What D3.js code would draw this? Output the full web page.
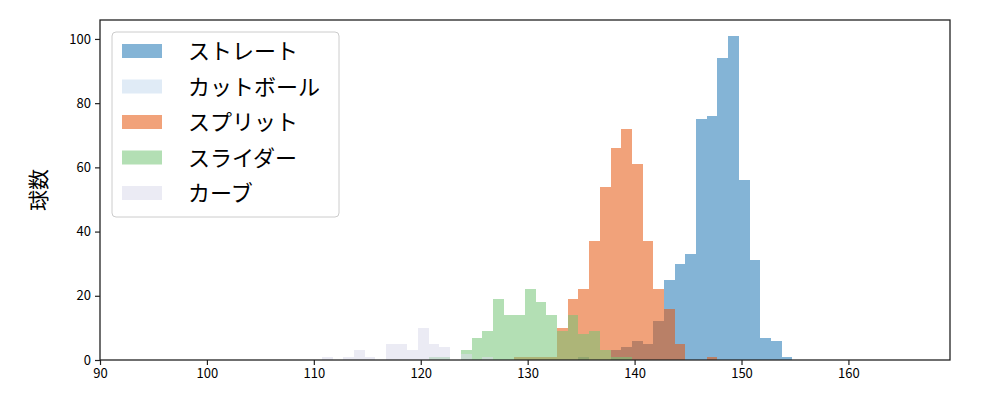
<!DOCTYPE html><html><head><meta charset="utf-8">
<script src="https://cdn.jsdelivr.net/npm/d3@7"></script>
<style>body{margin:0;background:#fff}text{font-family:"Noto Sans CJK JP","DejaVu Sans",sans-serif}</style></head><body>
<svg id="c" width="1000" height="400"></svg>
<script>
const names=["ストレート","カットボール","スプリット","スライダー","カーブ"];
const colors=["#1f77b4","#c6dbef","#e6550d","#74c476","#dadaeb"];
const straightBins=[135,138,139,140,141,142,143,144,145,146,147,148,149,150,151,152,153,154];
const straightVals=[1,3,4,6,5,12,25,30,33,75,76,94,101,56,31,7,6,1];
const cutBins=[];
const cutVals=[];
const splitBins=[129,130,131,132,133,134,135,136,137,138,139,140,141,142,143,144,147];
const splitVals=[1,1,1,1,10,19,22,37,54,66,72,61,37,22,16,5,1];
const sliderBins=[121,122,124,125,126,127,128,129,130,131,132,133,134,135,136,137,138,139];
const sliderVals=[1,1,3,7,9,19,14,14,22,18,14,9,14,8,9,3,1,1];
const curveBins=[111,113,114,115,117,118,119,120,121,122,124,126];
const curveVals=[1,1,3,1,5,5,3,10,5,4,2,1];
const xTicks=[90,100,110,120,130,140,150,160];
const yTicks=[0,20,40,60,80,100];
const binOffset=-0.25;
const series=[[straightBins,straightVals],[cutBins,cutVals],[splitBins,splitVals],[sliderBins,sliderVals],[curveBins,curveVals]];
const svg=d3.select("#c");
const L=100,R=950,T=20,B=360;
const x=d3.scaleLinear().domain([90,169.5]).range([L,R]);
const y=d3.scaleLinear().domain([0,105.9]).range([B,T]);
series.forEach(([bs,vs],i)=>{
  svg.append("g").attr("shape-rendering","crispEdges").selectAll("rect").data(bs.map((b,j)=>[b+binOffset,vs[j]])).join("rect")
   .attr("x",d=>x(d[0])).attr("width",d=>x(d[0]+1)-x(d[0]))
   .attr("y",d=>y(d[1])).attr("height",d=>B-y(d[1]))
   .attr("fill",colors[i]).attr("fill-opacity",0.55);
});
const gx=svg.append("g").attr("transform",`translate(0,${B})`).call(d3.axisBottom(x).tickValues(xTicks).tickSize(5).tickPadding(4));
const gy=svg.append("g").attr("transform",`translate(${L},0)`).call(d3.axisLeft(y).tickValues(yTicks).tickSize(5).tickPadding(4));
[gx,gy].forEach(g=>{g.selectAll("text").attr("font-size",13).attr("fill","#000");g.select(".domain").remove();g.selectAll("line").attr("stroke","#222").attr("stroke-width",1.2);});
svg.append("rect").attr("x",L).attr("y",T).attr("width",R-L).attr("height",B-T).attr("fill","none").attr("stroke","#222").attr("stroke-width",1.3);
svg.append("text").attr("transform","translate(46,190) rotate(-90)").attr("text-anchor","middle").attr("font-size",21).text("球数");
const lg=svg.append("g");
lg.append("rect").attr("x",112).attr("y",32).attr("width",227).attr("height",185).attr("rx",4).attr("fill","#fff").attr("fill-opacity",0.8).attr("stroke","#ccc");
names.forEach((n,i)=>{
  const yy=51+i*35.5;
  lg.append("rect").attr("x",122).attr("y",yy-7).attr("width",40).attr("height",14).attr("fill",colors[i]).attr("fill-opacity",0.55);
  lg.append("text").attr("x",188).attr("y",yy+8).attr("font-size",22).text(n);
});
</script></body></html>
